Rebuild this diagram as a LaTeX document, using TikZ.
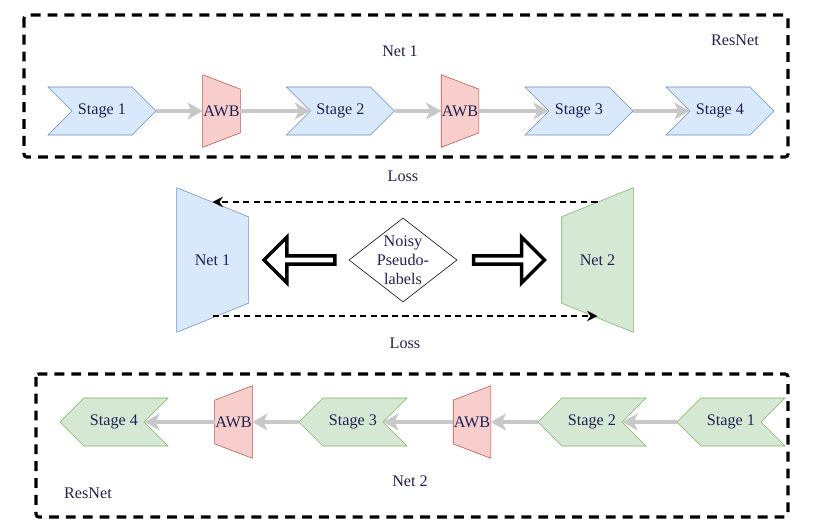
\documentclass[tikz,border=0pt]{standalone}
\usepackage{fontspec}
\setmainfont{Liberation Serif}
\usetikzlibrary{shapes, arrows.meta, backgrounds}

\definecolor{bluefill}{HTML}{DAE8FC}
\definecolor{blueline}{HTML}{6C8EBF}
\definecolor{greenfill}{HTML}{D5E8D4}
\definecolor{greenline}{HTML}{82B366}
\definecolor{redfill}{HTML}{F8CECC}
\definecolor{redline}{HTML}{B85450}
\definecolor{flowgray}{HTML}{C8C8C8}
\definecolor{labelink}{HTML}{202050}

% tapered blocks: long side on the west / on the east
\newcommand{\taperwest}[4]{\filldraw[draw=#2, fill=#3] (#1.north west) -- ([yshift=-#4]#1.north east)
    -- ([yshift=#4]#1.south east) -- (#1.south west) -- cycle;}
\newcommand{\tapereast}[4]{\filldraw[draw=#2, fill=#3] (#1.north east) -- ([yshift=-#4]#1.north west)
    -- ([yshift=#4]#1.south west) -- (#1.south east) -- cycle;}

\tikzset{
    stagefwd/.style={signal, signal to=east, signal from=west, signal pointer angle=90,
        draw=blueline, fill=bluefill, text=labelink, minimum width=2.7cm, minimum height=1.2cm, inner sep=0pt},
    stagebwd/.style={signal, signal to=west, signal from=east, signal pointer angle=90,
        draw=greenline, fill=greenfill, text=labelink, minimum width=2.7cm, minimum height=1.2cm, inner sep=0pt},
    awbblock/.style={rectangle, text=labelink, minimum width=0.925cm, minimum height=1.8cm, inner sep=0pt},
    netblock/.style={rectangle, text=labelink, minimum width=1.775cm, minimum height=3.6cm, inner sep=0pt},
    bigarrow/.style={single arrow, draw=black, fill=white, line width=2.4pt, inner sep=1pt,
        minimum height=1.775cm, minimum width=1.15cm, single arrow head extend=0.35cm},
    netbox/.style={draw=black, line width=2.2pt, dash pattern=on 7pt off 5pt, rounded corners=2pt},
    flow/.style={draw=flowgray, line width=2.6pt, -{Stealth[length=0.38cm, width=0.42cm, inset=0.1cm]}},
    lossflow/.style={draw=black, line width=1pt, dash pattern=on 4.5pt off 3pt, -{Stealth[length=0.26cm, width=0.26cm]}},
    txt/.style={text=labelink}
}

\begin{document}
\begin{tikzpicture}[x=0.025cm, y=-0.025cm, font=\fontsize{11.5}{13.5}\selectfont]
    \useasboundingbox (0, 0) rectangle (820, 531);

    % Net 1 (ResNet), top
    \draw[netbox] (24, 15) rectangle (788, 157);
    \node[txt] (net1title) at (400, 51) {Net 1};
    \node[txt] (res1title) at (735, 40) {ResNet};

    \node[stagefwd] (s1) at (102, 111) {Stage 1};
    \node[awbblock] (a1) at (221.5, 111) {AWB};
    \node[stagefwd] (s2) at (340.5, 111) {Stage 2};
    \node[awbblock] (a2) at (460, 111) {AWB};
    \node[stagefwd] (s3) at (579, 111) {Stage 3};
    \node[stagefwd] (s4) at (720, 111) {Stage 4};

    \draw[flow] (s1.east) -- (a1.west);
    \draw[flow] (a1.east) -- (s2.west);
    \draw[flow] (s2.east) -- (a2.west);
    \draw[flow] (a2.east) -- (s3.west);
    \draw[flow] (s3.east) -- (s4.west);

    % co-teaching in the middle
    \node[netblock] (n1) at (212.5, 260) {Net 1};
    \node[netblock] (n2) at (597.5, 260) {Net 2};
    \node[diamond, draw=black, minimum width=2.7cm, minimum height=2.1cm, inner sep=1pt,
          label={[txt, align=center]center:{Noisy\\Pseudo-\\labels}}] (noisy) at (403, 260) {};
    \node[bigarrow, shape border rotate=180] (toleft) at (301.5, 260) {};
    \node[bigarrow] (toright) at (507, 260) {};

    \draw[lossflow] ([yshift=1.45cm]n2.center) -- ([yshift=1.45cm]n1.center);   % Net 2 -- Net 1
    \draw[lossflow] ([yshift=-1.4cm]n1.center) -- ([yshift=-1.4cm]n2.center);   % Net 1 -- Net 2
    \node[txt] (losstop) at (403, 176) {Loss};
    \node[txt] (lossbot) at (405, 343) {Loss};

    % Net 2 (ResNet), bottom
    \draw[netbox] (36, 374) rectangle (788, 517);
    \node[txt] (net2title) at (410, 481) {Net 2};
    \node[txt] (res2title) at (88, 493) {ResNet};

    \node[stagebwd] (b1) at (731, 422) {Stage 1};
    \node[stagebwd] (b2) at (592, 422) {Stage 2};
    \node[awbblock] (c2) at (472, 422) {AWB};
    \node[stagebwd] (b3) at (353, 422) {Stage 3};
    \node[awbblock] (c1) at (233.5, 422) {AWB};
    \node[stagebwd] (b4) at (114, 422) {Stage 4};

    \draw[flow] (b1.west) -- (b2.east);
    \draw[flow] (b2.west) -- (c2.east);
    \draw[flow] (c2.west) -- (b3.east);
    \draw[flow] (b3.west) -- (c1.east);
    \draw[flow] (c1.west) -- (b4.east);

    \begin{scope}[on background layer]
        \taperwest{a1}{redline}{redfill}{0.36cm}
        \taperwest{a2}{redline}{redfill}{0.36cm}
        \tapereast{c1}{redline}{redfill}{0.36cm}
        \tapereast{c2}{redline}{redfill}{0.36cm}
        \taperwest{n1}{blueline}{bluefill}{0.725cm}
        \tapereast{n2}{greenline}{greenfill}{0.725cm}
    \end{scope}
\end{tikzpicture}
\end{document}
